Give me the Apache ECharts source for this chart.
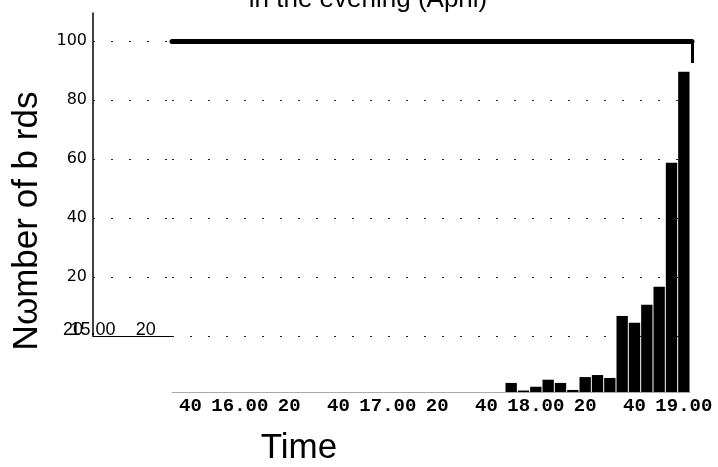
<!DOCTYPE html>
<html>
<head>
<meta charset="utf-8">
<script src="https://cdn.jsdelivr.net/npm/echarts@6/dist/echarts.min.js"></script>
<style>
  html, body { margin: 0; padding: 0; background: #fff; }
  #chart { width: 718px; height: 467px; }
</style>
</head>
<body>
<div id="chart"></div>
<script>
// Five-minute bins that hold birds, and the number of birds counted in each
const binTimes = ['17.50', '17.55', '18.00', '18.05', '18.10', '18.15', '18.20', '18.25',
                  '18.30', '18.35', '18.40', '18.45', '18.50', '18.55', '19.00'];
const birdCounts = [3.1, 0.5, 1.8, 4.2, 3.1, 0.7, 5.1, 5.8, 4.8, 26, 23.7, 29.8, 36, 78.4, 109.5];

// Time axis: 15.35 to 19.00 in five-minute steps
const axisStart = '15.35';
const axisEnd = '19.00';
const stepMinutes = 5;

// Tick labels on the count axis, bottom to top
const yTickLabels = ['20', '20', '40', '60', '80', '100'];

const titleText = 'in the evening (April)';
const yTitle = 'N\u03c9mber of b rds';
const xTitle = 'Time';

function toMinutes(t) {
  const [h, m] = t.split('.').map(Number);
  return h * 60 + m;
}
function toLabel(mins) {
  const h = Math.floor(mins / 60), m = mins % 60;
  return m === 0 ? h + '.00' : String(m).padStart(2, '0');
}

const categories = [];
for (let t = toMinutes(axisStart); t <= toMinutes(axisEnd); t += stepMinutes) {
  const h = Math.floor(t / 60), m = t % 60;
  categories.push(h + '.' + String(m).padStart(2, '0'));
}
const countByTime = {};
binTimes.forEach((t, i) => { countByTime[t] = birdCounts[i]; });
const barData = categories.map(c => (c in countByTime ? countByTime[c] : null));

const dotted = { color: '#222', width: 1, type: [2, 16] };

const chart = echarts.init(document.getElementById('chart'), null, { renderer: 'canvas' });
chart.setOption({
  backgroundColor: '#fff',
  animation: false,
  grid: [
    // left strip with the labelled count axis
    { left: 93, top: 13, width: 79, bottom: 131 },
    // gridline frame over the time span
    { left: 172, top: 41, right: 26, bottom: 131 },
    // bar area
    { left: 172, top: 41, right: 28, bottom: 75 }
  ],
  xAxis: [
    {
      gridIndex: 0, type: 'value', min: 0, max: 30, interval: 20,
      axisLine: { show: true, onZero: false, lineStyle: { color: '#000', width: 1 } },
      axisTick: { show: false },
      splitLine: { show: false },
      axisLabel: {
        margin: -6, verticalAlign: 'middle', showMaxLabel: false,
        fontFamily: 'Liberation Sans', fontSize: 18, color: '#000',
        formatter: v => (v % 20 === 0 ? toLabel(15 * 60 + v) : '')
      }
    },
    {
      gridIndex: 1, type: 'category', position: 'top', data: ['', ''], boundaryGap: false,
      axisLine: { show: true, onZero: false, lineStyle: { color: '#000', width: 5 } },
      axisTick: { show: true, inside: true, length: 22, interval: (i) => i === 1,
                  lineStyle: { color: '#000', width: 3 } },
      axisLabel: { show: false },
      splitLine: { show: false }
    },
    {
      gridIndex: 2, type: 'category', data: categories,
      axisLine: { show: true, onZero: false, lineStyle: { color: '#aaa', width: 1 } },
      axisTick: { show: false },
      splitLine: { show: false },
      axisLabel: {
        margin: 14, verticalAlign: 'middle',
        interval: (i, v) => toMinutes(v) % 20 === 0,
        fontFamily: 'Liberation Mono', fontWeight: 'bold', fontSize: 19, color: '#000',
        formatter: v => toLabel(toMinutes(v))
      }
    }
  ],
  yAxis: [
    {
      gridIndex: 0, type: 'value', min: 0, max: 109.5, interval: 20,
      axisLine: { show: true, lineStyle: { color: '#000', width: 1.5 } },
      axisTick: { show: false },
      splitLine: { show: true, showMaxLine: false, lineStyle: dotted },
      axisLabel: {
        margin: 6, showMaxLabel: false,
        fontFamily: 'DejaVu Sans', fontSize: 16, color: '#000',
        formatter: v => {
          if (v % 20 !== 0) return '';
          const s = yTickLabels[v / 20];
          return v === 0 ? '{low|' + s + '}' : s;
        },
        rich: {
          low: { fontFamily: 'Liberation Sans', fontSize: 18, color: '#000',
                 padding: [0, 4, 11, 0] }
        }
      }
    },
    {
      gridIndex: 1, type: 'value', min: 0, max: 100, interval: 20,
      axisLine: { show: false }, axisTick: { show: false }, axisLabel: { show: false },
      splitLine: { show: true, lineStyle: dotted }
    },
    {
      gridIndex: 2, type: 'value', min: 0, max: 120,
      axisLine: { show: false }, axisTick: { show: false }, axisLabel: { show: false },
      splitLine: { show: false }
    }
  ],
  series: [
    {
      type: 'bar', xAxisIndex: 2, yAxisIndex: 2,
      data: barData,
      barCategoryGap: '8%',
      itemStyle: { color: '#000' }
    }
  ],
  graphic: [
    {
      type: 'text', x: 368, y: 0, silent: true,
      style: { text: titleText, fontFamily: 'Liberation Sans', fontSize: 26,
               fill: '#000', align: 'center', verticalAlign: 'middle' }
    },
    {
      type: 'text', x: 27, y: 221, rotation: Math.PI / 2, silent: true,
      style: { text: yTitle, fontFamily: 'Liberation Sans', fontSize: 35,
               fill: '#000', align: 'center', verticalAlign: 'middle' }
    },
    {
      type: 'text', x: 299, y: 448, silent: true,
      style: { text: xTitle, fontFamily: 'Liberation Sans', fontSize: 35,
               fill: '#000', align: 'center', verticalAlign: 'middle' }
    }
  ]
});
</script>
</body>
</html>
